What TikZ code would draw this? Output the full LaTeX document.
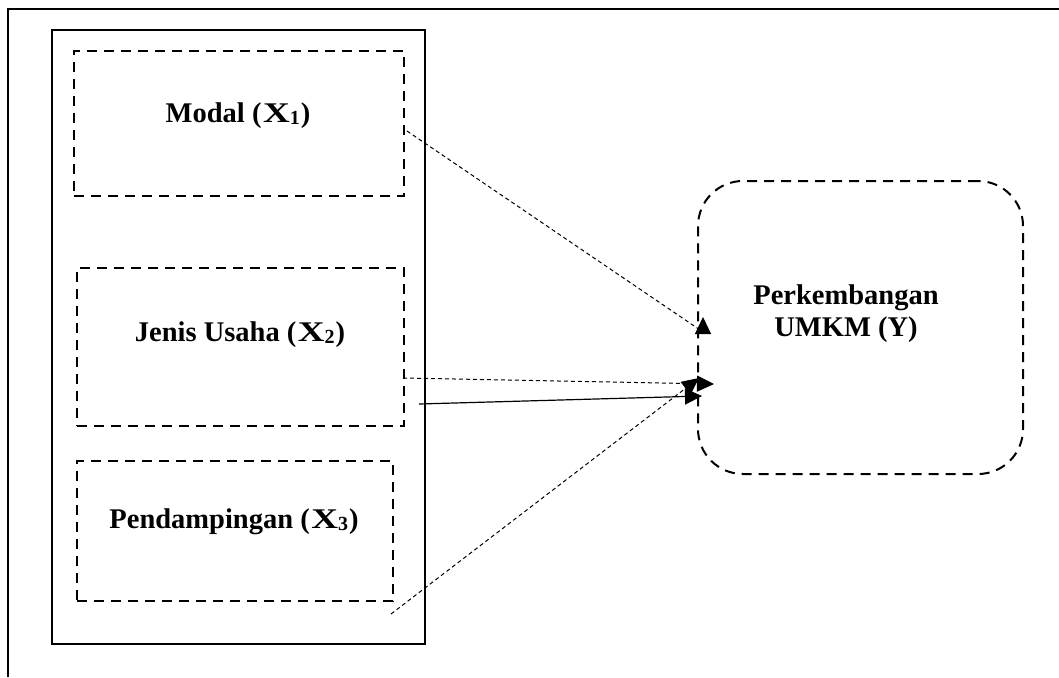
\documentclass[tikz,border=0pt]{standalone}
\usepackage{fontspec}
\setmainfont{Liberation Serif}
\usetikzlibrary{arrows.meta}
\newcommand{\sbx}[1]{{\fontsize{20}{20}\selectfont\raisebox{-2.5pt}{#1}}}
\newcommand{\vx}[1]{(\kern1.5pt\scalebox{1.3}[1]{X}\sbx{#1}\kern1pt)}
\tikzset{
  frameline/.style={line width=2.2pt},
  varbox/.style={draw, line width=2pt, dash pattern=on 10pt off 7pt, inner sep=0pt},
  lbl/.style={font=\fontsize{28.5}{32}\selectfont\bfseries, anchor=base, inner sep=0pt, align=center},
  thin dash/.style={line width=1pt, dash pattern=on 4pt off 3pt},
  tip/.style={-{Triangle[length=17pt,width=16pt]}}
}
\begin{document}
\begin{tikzpicture}[x=1pt,y=-1pt]
\useasboundingbox (0,0) rectangle (1059,677);
% outer frame (top and left)
\coordinate (otl) at (8,9);
\coordinate (otr) at (1059,9);
\coordinate (obl) at (8,677);
\draw[frameline] (otr) -- (otl) -- (obl);
% inner solid rectangle
\node[draw, frameline, inner sep=0pt, minimum width=373pt, minimum height=614pt, anchor=north west] (inner) at (51,29) {};
% variable boxes
\node[varbox, minimum width=330pt, minimum height=145pt, anchor=north west] (b1) at (73,50) {};
\node[varbox, minimum width=327pt, minimum height=158pt, anchor=north west] (b2) at (76,267) {};
\node[varbox, minimum width=316pt, minimum height=140pt, anchor=north west] (b3) at (76,460) {};
\node[varbox, rounded corners=45pt, minimum width=325pt, minimum height=293pt, anchor=north west] (y) at (697,180) {};
% labels
\node[lbl] (t1) at (238,122) {Modal \vx{1}};
\node[lbl] (t2) at (240,341) {Jenis Usaha \vx{2}};
\node[lbl] (t3) at (234,528) {Pendampingan \vx{3}};
\node[lbl] (ty1) at (846,304) {Perkembangan};
\node[lbl] (ty2) at (846,336) {UMKM (Y)};
% arrow coordinates
\coordinate (s1) at (407,131);
\coordinate (h1) at (703,332);
\coordinate (e1) at (703,317);
\coordinate (s2) at (403,378);
\coordinate (e2) at (714,384);
\coordinate (s3) at (419,404);
\coordinate (e3) at (702,396);
\coordinate (s4) at (391,614);
\coordinate (e4) at (699,378);
% connectors
\draw[thin dash] (s1) -- (h1);
\draw[thin dash, tip] (h1) -- (e1);
\draw[thin dash, tip] (s2) -- (e2);
\draw[line width=1.2pt, tip] (s3) -- (e3);
\draw[thin dash, tip] (s4) -- (e4);
\end{tikzpicture}
\end{document}
